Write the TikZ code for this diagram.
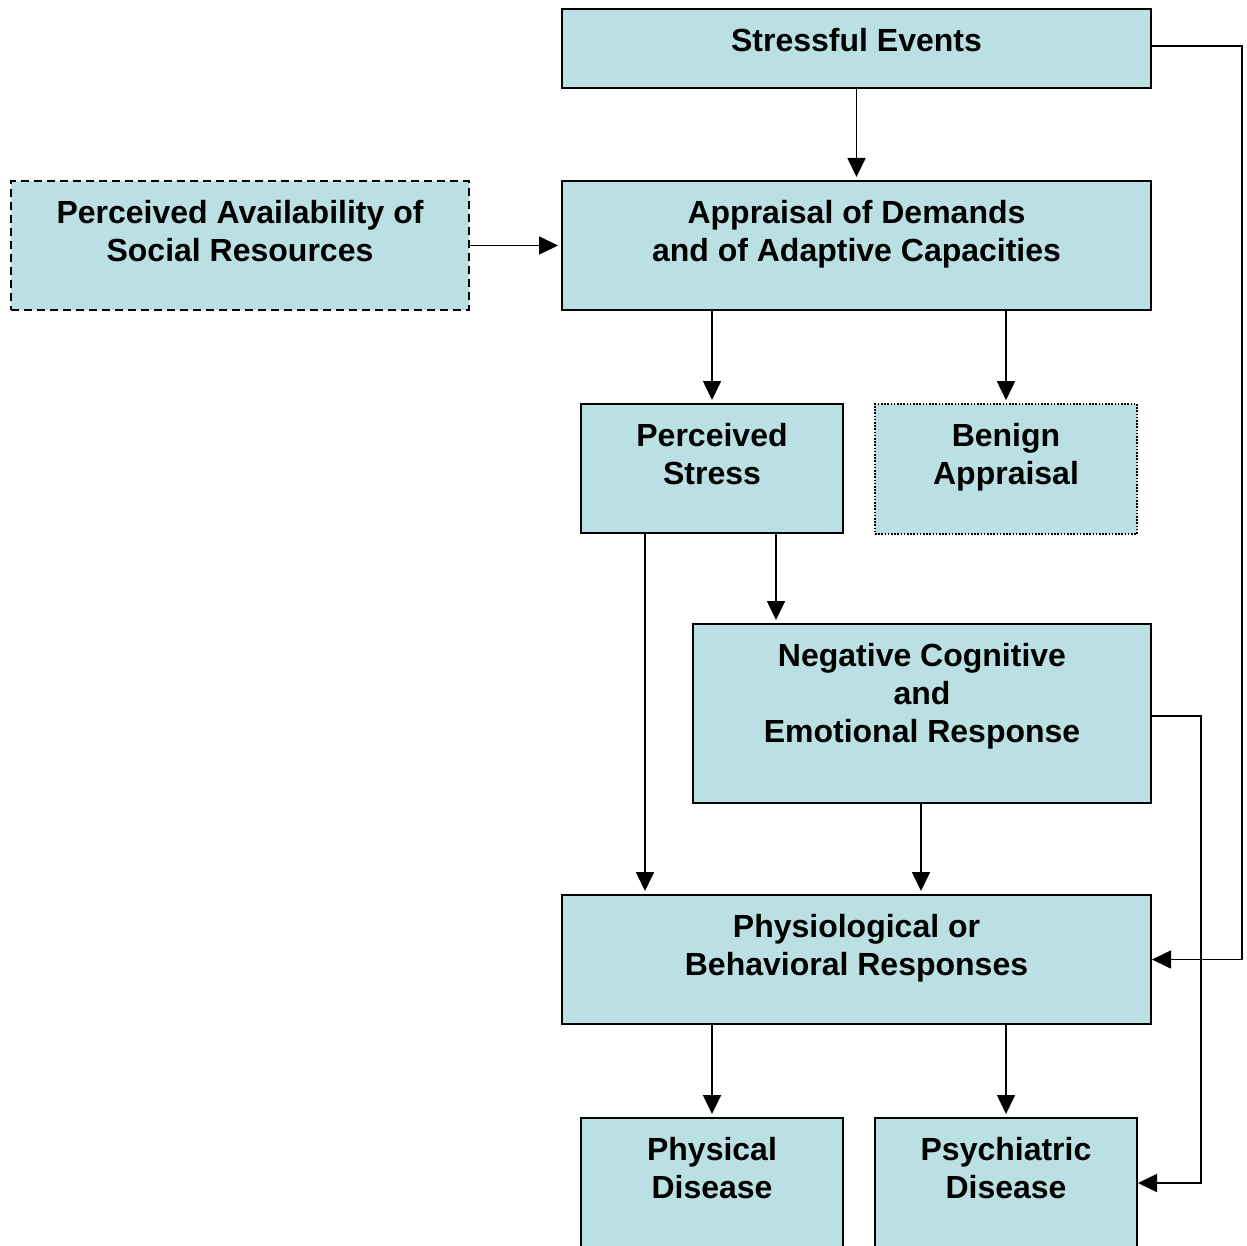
\documentclass[tikz,border=0pt]{standalone}
\usepackage{fontspec}
\setmainfont{Liberation Sans}
\usetikzlibrary{arrows.meta}
\definecolor{boxfill}{RGB}{186,224,227}
\tikzset{
  box/.style={draw=black, fill=boxfill, line width=1pt, inner sep=0pt, anchor=center},
  boxtext/.style={font=\bfseries\fontsize{16}{19}\selectfont, align=center, inner sep=0pt, anchor=center},
  arr/.style={line width=0.85pt, line join=miter, -{Triangle[length=9.5pt,width=9pt]}},
  ln/.style={line width=0.85pt}
}
\begin{document}
\begin{tikzpicture}[x=0.5pt,y=-0.5pt]
\useasboundingbox (0,0) rectangle (1247,1246);
% boxes
\node[box, minimum width=294.5pt, minimum height=39.5pt] (se) at (856.5,48.5) {};
\node[box, minimum width=294.5pt, minimum height=64.5pt] (ap) at (856.5,245.5) {};
\node[box, dash pattern=on 4pt off 2.5pt, minimum width=229pt, minimum height=64.5pt] (pa) at (240,245.5) {};
\node[box, minimum width=131pt, minimum height=64.5pt] (ps) at (712,468.5) {};
\node[box, line width=0.8pt, dash pattern=on 0.8pt off 0.8pt, minimum width=131pt, minimum height=65pt] (ba) at (1006,469) {};
\node[box, minimum width=229pt, minimum height=89.5pt] (ne) at (922,713.5) {};
\node[box, minimum width=294.5pt, minimum height=64.5pt] (ph) at (856.5,959.5) {};
\node[box, minimum width=131pt, minimum height=76pt] (pd) at (712,1194) {};
\node[box, minimum width=131pt, minimum height=76pt] (pyd) at (1006,1194) {};
% texts
\node[boxtext] (tse) at (856.5,40) {Stressful Events};
\node[boxtext] (tap) at (856.5,234) {Appraisal of Demands\\and of Adaptive Capacities};
\node[boxtext] (tpa) at (240,231) {Perceived Availability of\\Social Resources};
\node[boxtext] (tps) at (712,454) {Perceived\\Stress};
\node[boxtext] (tba) at (1006,457) {Benign\\Appraisal};
\node[boxtext] (tne) at (922,696) {Negative Cognitive\\and\\Emotional Response};
\node[boxtext] (tph) at (856.5,948) {Physiological or\\Behavioral Responses};
\node[boxtext] (tpd) at (712,1168) {Physical\\Disease};
\node[boxtext] (tpyd) at (1006,1168) {Psychiatric\\Disease};
% connectors
\draw[arr, shorten >=1.5pt] (se.south) -- (ap.north);
\draw[arr, shorten >=1.5pt] (pa.east) -- (ap.west);
\draw[arr, shorten >=1.5pt] (ap.south -| ps.north) -- (ps.north);
\draw[arr, shorten >=1.5pt] (ap.south -| ba.north) -- (ba.north);
\draw[arr, shorten >=1.5pt] (ps.south -| 776,0) -- (ne.north -| 776,0);
\draw[arr, shorten >=1.5pt] (ps.south -| 645,0) -- (ph.north -| 645,0);
\draw[arr, shorten >=1.5pt] (ne.south -| 921,0) -- (ph.north -| 921,0);
\draw[arr, shorten >=1.5pt] (ph.south -| pd.north) -- (pd.north);
\draw[arr, shorten >=1.5pt] (ph.south -| pyd.north) -- (pyd.north);
\draw[arr] (se.east |- 0,46) -- (1242,46) |- (ph.east);
\draw[arr] (ne.east |- 0,716) -- (1201,716) |- (pyd.east |- 0,1183);
\end{tikzpicture}
\end{document}
